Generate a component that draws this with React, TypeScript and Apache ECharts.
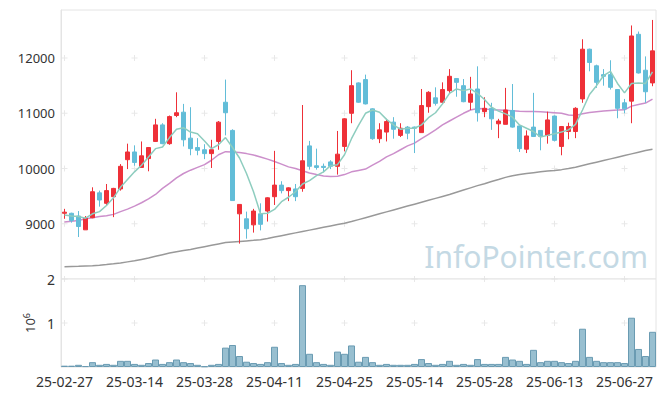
import React, { useEffect, useRef } from "react";
import * as echarts from "echarts";

const dates = [
  "25-02-27","25-02-28","25-03-04","25-03-05","25-03-06","25-03-07","25-03-10","25-03-11","25-03-12","25-03-13",
  "25-03-14","25-03-17","25-03-18","25-03-19","25-03-20","25-03-21","25-03-24","25-03-25","25-03-26","25-03-27",
  "25-03-28","25-03-31","25-04-01","25-04-02","25-04-03","25-04-04","25-04-07","25-04-08","25-04-09","25-04-10",
  "25-04-11","25-04-14","25-04-15","25-04-16","25-04-17","25-04-18","25-04-21","25-04-22","25-04-23","25-04-24",
  "25-04-25","25-04-28","25-04-29","25-04-30","25-05-02","25-05-07","25-05-08","25-05-09","25-05-12","25-05-13",
  "25-05-14","25-05-15","25-05-16","25-05-19","25-05-20","25-05-21","25-05-22","25-05-23","25-05-26","25-05-27",
  "25-05-28","25-05-29","25-05-30","25-06-02","25-06-04","25-06-05","25-06-09","25-06-10","25-06-11","25-06-12",
  "25-06-13","25-06-16","25-06-17","25-06-18","25-06-19","25-06-20","25-06-23","25-06-24","25-06-25","25-06-26",
  "25-06-27","25-06-30","25-07-01","25-07-02","25-07-03"
];

const opens = [
  9190,9190,9140,8890,9110,9560,9370,9490,9630,10160,
  10300,10020,10180,10490,10790,10450,10960,11020,10550,10380,
  10340,10270,10490,11200,10690,9180,9090,8980,9180,9230,
  9490,9700,9600,9630,9640,10410,10050,10040,10120,10040,
  10400,11000,11550,11610,11080,10540,10660,10840,10600,10750,
  10750,10650,11120,11280,11200,11410,11630,11500,11200,11440,
  11030,11090,10810,10800,11050,10770,10350,10750,10690,10600,
  10950,10400,10670,10670,11260,12160,11860,11700,11700,11430,
  11190,11220,12430,11780,11550
];
const closes = [
  9210,9060,8950,9100,9580,9430,9600,9640,10040,10300,
  10110,10230,10380,10790,10450,10940,11010,10520,10360,10330,
  10270,10340,10840,11010,9420,9350,8910,9230,8990,9470,
  9700,9600,9650,9490,10140,10040,10020,10020,10040,10260,
  10900,11500,11200,11170,10540,10700,10850,10710,10730,10640,
  10730,11140,11380,11180,11430,11670,11560,11210,11350,11010,
  11090,10900,10860,11060,10750,10360,10590,10580,10580,10880,
  10510,10760,10760,11090,12160,11920,11560,11670,11470,11090,
  11080,12400,11730,11390,12130
];
const lows = [
  9090,9020,8760,8890,9100,9310,9340,9120,9600,9990,
  10050,10020,9950,10480,10440,10430,10930,10400,10240,10240,
  10170,10010,10340,10600,9420,8640,8730,8840,8880,9040,
  9340,9550,9410,9410,9580,9980,9980,9930,9990,9890,
  10310,10820,11190,11160,10520,10460,10490,10540,10570,10530,
  10280,10650,11010,11140,11170,11370,11300,11200,11060,10850,
  10930,10700,10550,10800,10740,10300,10280,10570,10330,10450,
  10490,10240,10530,10550,11190,11760,11460,11500,11430,10910,
  11000,10820,11720,11190,11490
];
const highs = [
  9270,9200,9230,9140,9660,9600,9720,9650,10080,10450,
  10420,10490,10390,10900,10820,10960,11380,11170,11110,10550,
  10440,10520,10860,11610,10710,9350,9220,9270,9370,9480,
  10320,9770,9660,9720,11150,10500,10360,10090,10150,10680,
  10910,11780,11560,11700,11090,10820,10900,10930,10820,10770,
  10760,11440,11400,11470,11560,11800,11630,11620,11660,11850,
  11290,11190,10900,11460,11530,10780,10690,11370,10690,11030,
  10960,10770,10830,11110,12340,12170,11880,11800,11960,11430,
  11260,12590,12480,12030,12690
];
const volumes = [
  30000,30000,50000,20000,110000,50000,70000,50000,140000,140000,
  70000,50000,90000,170000,70000,110000,170000,110000,90000,50000,
  15000,50000,70000,440000,500000,250000,120000,90000,70000,110000,
  460000,90000,50000,70000,1860000,300000,110000,70000,50000,350000,
  300000,490000,120000,230000,110000,50000,70000,50000,50000,50000,
  70000,180000,90000,50000,70000,140000,50000,70000,50000,180000,
  70000,70000,70000,230000,170000,140000,70000,390000,110000,140000,
  140000,110000,90000,140000,870000,230000,140000,110000,110000,110000,
  90000,1120000,410000,250000,800000
];
const ma5 = [
  9160,9140,9130,9100,9180,9220,9330,9470,9660,9800,
  9940,10060,10210,10360,10390,10560,10710,10740,10660,10630,
  10500,10360,10430,10560,10380,10190,9910,9580,9180,9190,
  9260,9400,9480,9580,9720,9780,9870,9940,10050,10070,
  10250,10540,10780,11000,11060,11020,10890,10790,10710,10730,
  10730,10790,10920,11010,11170,11360,11440,11410,11440,11360,
  11250,11110,11040,10990,10930,10790,10730,10670,10570,10600,
  10630,10660,10700,10800,11060,11340,11500,11680,11760,11540,
  11370,11540,11550,11540,11750
];
const ma20 = [
  9030,9045,9060,9090,9110,9130,9145,9170,9220,9265,
  9320,9380,9450,9530,9640,9730,9830,9910,9970,10020,
  10070,10150,10250,10305,10300,10290,10270,10245,10210,10170,
  10127,10080,10030,10000,9960,9920,9890,9865,9855,9860,
  9890,9940,9965,9990,10060,10130,10210,10270,10340,10410,
  10460,10540,10620,10700,10790,10860,10930,11000,11060,11085,
  11080,11063,11060,11055,11045,11035,11032,11032,11030,11020,
  11010,11000,10970,10960,10990,11014,11030,11040,11050,11060,
  11063,11130,11160,11185,11257
];
const ma120 = [
  8224,8227,8230,8235,8240,8250,8262,8275,8290,8310,
  8330,8355,8380,8410,8440,8470,8495,8515,8535,8560,
  8585,8610,8635,8660,8670,8680,8690,8700,8712,8735,
  8760,8785,8810,8835,8860,8885,8910,8935,8960,8985,
  9010,9040,9075,9110,9145,9180,9215,9250,9285,9320,
  9355,9390,9425,9460,9495,9530,9570,9610,9650,9690,
  9725,9765,9800,9840,9870,9890,9910,9925,9940,9955,
  9965,9980,10000,10025,10055,10085,10115,10145,10175,10205,
  10235,10265,10295,10325,10350
];
const priceTicks = [9000, 10000, 11000, 12000];
const volumeTicks = [1000000, 2000000];

const FONT = "Noto Sans";
const CROSS = "path://M0,2.5H6V3.5H0Z M2.5,0H3.5V6H2.5Z";

export default function App() {
  const ref = useRef<HTMLDivElement>(null);
  useEffect(() => {
    const chart = echarts.init(ref.current!, null, { renderer: "svg" });
    const candles = dates.map((_, i) => [opens[i], closes[i], lows[i], highs[i]]);
    const labelIdx = dates.map((_, i) => i).filter((i) => i % 10 === 0);
    const priceCross = labelIdx.flatMap((i) => priceTicks.map((v) => [i, v]));
    const volCross = labelIdx.flatMap((i) => volumeTicks.map((v) => [i, v]));
    const gridBase = { left: 61, right: 9, show: true, borderColor: "#e4e4e4", borderWidth: 1, backgroundColor: "#fff" };
    chart.setOption({
      animation: false,
      backgroundColor: "#fff",
      textStyle: { fontFamily: FONT },
      grid: [
        { ...gridBase, top: 10, height: 269 },
        { ...gridBase, top: 279, height: 88 },
      ],
      xAxis: [
        {
          gridIndex: 0, type: "category", data: dates, boundaryGap: true,
          axisLine: { show: false }, axisTick: { show: false }, axisLabel: { show: false }, splitLine: { show: false },
        },
        {
          gridIndex: 1, type: "category", data: dates, boundaryGap: true,
          axisLine: { show: false }, axisTick: { show: false }, splitLine: { show: false },
          axisLabel: { interval: 9, fontSize: 14, color: "#333", margin: 7, fontFamily: FONT },
        },
      ],
      yAxis: [
        {
          gridIndex: 0, type: "value", min: 8000, max: 12870, interval: 1000,
          axisLine: { show: true, lineStyle: { color: "#e4e4e4" } }, axisTick: { show: false }, splitLine: { show: false },
          axisLabel: {
            fontSize: 13, color: "#333", margin: 6, fontFamily: FONT,
            formatter: (v: number) => (priceTicks.includes(v) ? String(v) : ""),
          },
        },
        {
          gridIndex: 1, type: "value", min: 0, max: 2000000, interval: 1000000,
          axisLine: { show: true, lineStyle: { color: "#e4e4e4" } }, axisTick: { show: false }, splitLine: { show: false },
          axisLabel: {
            fontSize: 14, color: "#333", margin: 6, fontFamily: FONT,
            formatter: (v: number) => (volumeTicks.includes(v) ? String(v / 1000000) : ""),
          },
          name: "{b|10}{s|6}",
          nameLocation: "middle",
          nameGap: 22,
          nameRotate: 90,
          nameTextStyle: {
            color: "#333",
            fontFamily: FONT,
            rich: {
              b: { fontSize: 13, color: "#333", fontFamily: FONT, lineHeight: 16 },
              s: { fontSize: 9, color: "#333", fontFamily: FONT, verticalAlign: "top", lineHeight: 16 },
            },
          },
        },
      ],
      graphic: [
        {
          type: "text", x: 648, y: 256, z: 0, silent: true,
          style: {
            text: "InfoPointer.com", fill: "#c4d9e4", fontSize: 30, fontFamily: FONT,
            align: "right", verticalAlign: "middle",
          },
        },
      ],
      series: [
        {
          type: "scatter", xAxisIndex: 0, yAxisIndex: 0, data: priceCross, symbol: CROSS, symbolSize: 6,
          itemStyle: { color: "#e2e2e2" }, silent: true, z: 1,
        },
        {
          type: "scatter", xAxisIndex: 1, yAxisIndex: 1, data: volCross, symbol: CROSS, symbolSize: 6,
          itemStyle: { color: "#e2e2e2" }, silent: true, z: 1,
        },
        {
          type: "line", xAxisIndex: 0, yAxisIndex: 0, data: ma120, showSymbol: false, symbol: "none",
          lineStyle: { color: "#999999", width: 1.5 }, z: 3,
        },
        {
          type: "line", xAxisIndex: 0, yAxisIndex: 0, data: ma20, showSymbol: false, symbol: "none",
          lineStyle: { color: "#cc8fcb", width: 1.5 }, z: 3,
        },
        {
          type: "candlestick", xAxisIndex: 0, yAxisIndex: 0, data: candles, barWidth: 5,
          itemStyle: { color: "#ee3038", color0: "#62bdd8", borderColor: "#ee3038", borderColor0: "#62bdd8", borderWidth: 1 },
          z: 4,
        },
        {
          type: "line", xAxisIndex: 0, yAxisIndex: 0, data: ma5, showSymbol: false, symbol: "none",
          lineStyle: { color: "#8ecdbf", width: 1.5 }, z: 5,
        },
        {
          type: "bar", xAxisIndex: 1, yAxisIndex: 1, data: volumes, barCategoryGap: "0%",
          itemStyle: { color: "#98bfd0", borderColor: "#6a9bb2", borderWidth: 1 }, z: 3,
        },
      ],
    });
    return () => chart.dispose();
  }, []);
  return <div ref={ref} style={{ position: "fixed", left: 0, top: 0, width: 665, height: 396 }} />;
}
